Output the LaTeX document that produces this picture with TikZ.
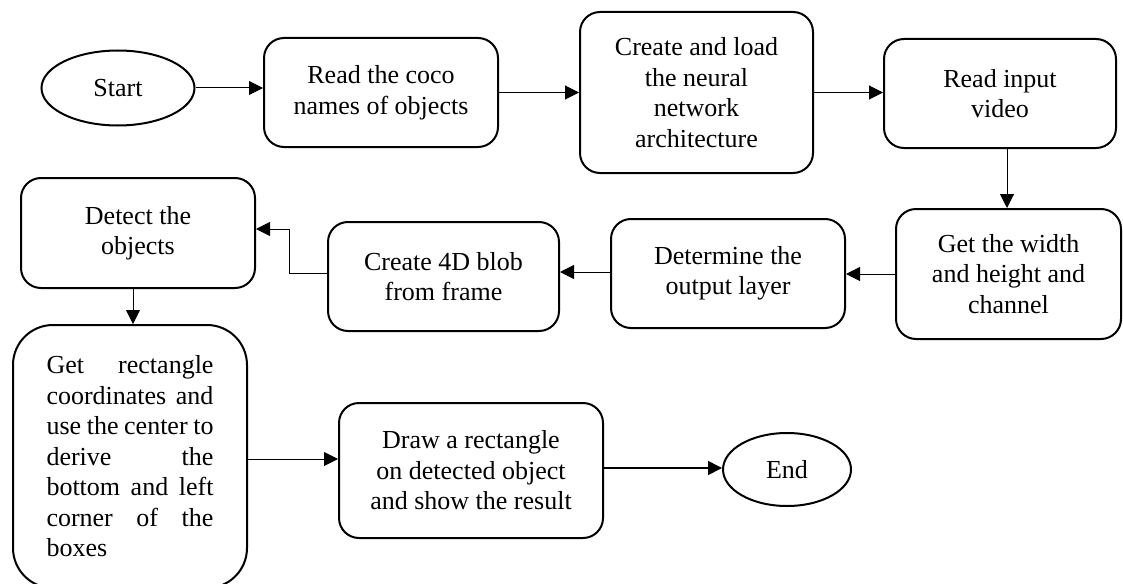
\documentclass[tikz,border=0pt]{standalone}
\usepackage{fontspec}
\setmainfont{Liberation Serif}
\usetikzlibrary{arrows.meta,shapes.geometric}
\newcommand{\jline}[1]{\leavevmode\hbox to 167pt{#1}}
\begin{document}
\begin{tikzpicture}[x=1pt,y=-1pt,
  txt/.style={font=\fontsize{26}{30.5}\selectfont},
  box/.style={draw,line width=2pt,rounded corners=20pt,align=center,inner sep=0pt,txt},
  term/.style={draw,ellipse,line width=2pt,inner sep=0pt,txt},
  conn/.style={line width=1pt,-{Triangle[length=14pt,width=14pt]}}]
\useasboundingbox (0,0) rectangle (1123,583);

\node[term,minimum width=153pt,minimum height=75pt] (start) at (118,88) {Start};
\node[box,minimum width=234pt,minimum height=109pt] (b1) at (381,92.5) {Read the coco\\names of objects};
\node[box,minimum width=233pt,minimum height=161pt] (b2) at (696.5,92.5) {Create and load\\the neural\\network\\architecture};
\node[box,minimum width=232pt,minimum height=109pt] (b3) at (1000,93.5) {Read input\\video};
\node[box,minimum width=225pt,minimum height=130pt] (b4) at (1008.5,274) {Get the width\\and height and\\channel};
\node[box,minimum width=234pt,minimum height=109pt] (b5) at (728,273.5) {Determine the\\output layer};
\node[box,minimum width=231pt,minimum height=109pt] (b6) at (443.5,276.5) {Create 4D blob\\from frame};
\node[box,minimum width=234pt,minimum height=110pt] (b7) at (138,233) {Detect the\\objects};
\node[box,rounded corners=40pt,minimum width=234pt,minimum height=263pt,text width=167pt,align=left] (b8) at (130,456.5)
  {\jline{Get\hfil rectangle}\\
   \jline{coordinates\hfil and}\\
   \jline{use\hfil the\hfil center\hfil to}\\
   \jline{derive\hfil the}\\
   \jline{bottom\hfil and\hfil left}\\
   \jline{corner\hfil of\hfil the}\\
   boxes};
\node[box,minimum width=264pt,minimum height=135pt] (b9) at (471,470.5) {Draw a rectangle\\on detected object\\and show the result};
\node[term,minimum width=128pt,minimum height=73pt] (end) at (787,469.5) {End};

\draw[conn] (start.east) -- (start.east -| b1.west);
\draw[conn] (b1.east) -- (b1.east -| b2.west);
\draw[conn] (b2.east) -- (b2.east -| b3.west);
\draw[conn] ([xshift=7pt]b3.south) -- ([xshift=7pt]b3.south |- b4.north);
\draw[conn] (b4.west) -- (b4.west -| b5.east);
\draw[conn] ([yshift=1.5pt]b5.west) -- ([yshift=1.5pt]b5.west -| b6.east);
\draw[conn] ([yshift=3.5pt]b6.west) -- ++(-38,0) |- ([yshift=4pt]b7.east);
\draw[conn] ([xshift=-5pt]b7.south) -- ([xshift=-5pt]b7.south |- b8.north);
\draw[conn] ([yshift=-2.5pt]b8.east) -- ([yshift=-2.5pt]b8.east -| b9.west);
\draw[conn,line width=1.6pt] ([yshift=2.5pt]b9.east) -- ([yshift=2.5pt]b9.east -| end.west);
\end{tikzpicture}
\end{document}
